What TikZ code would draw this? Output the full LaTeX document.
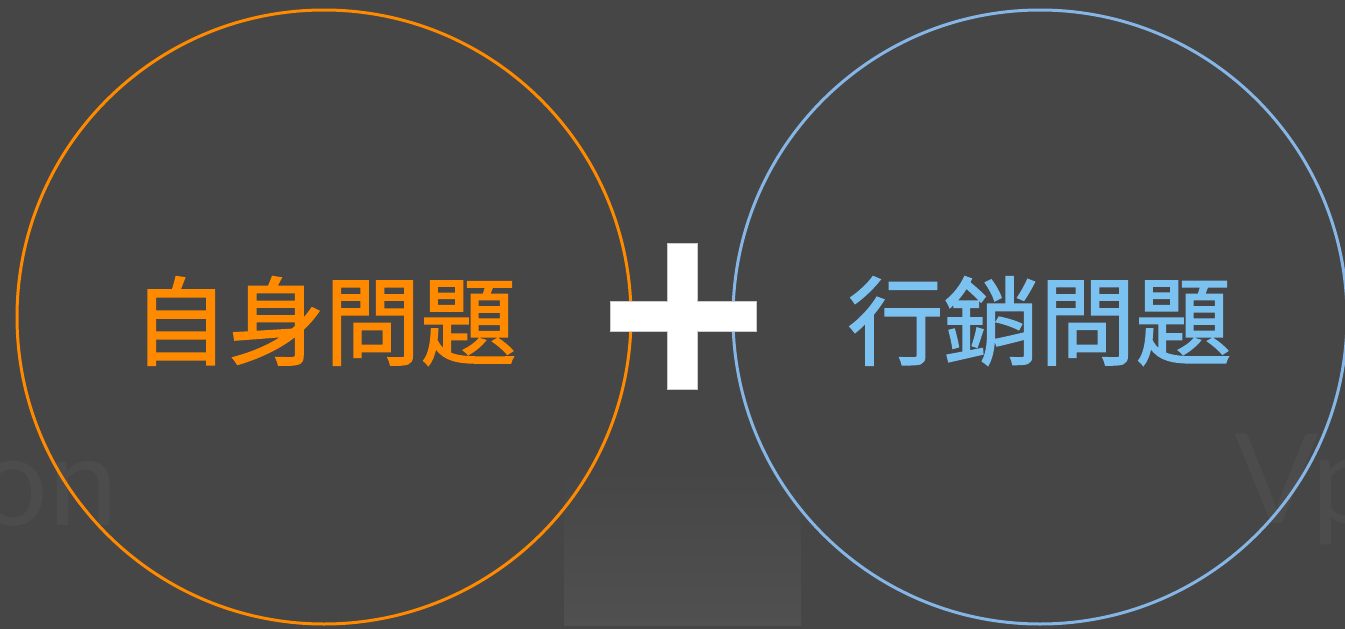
\documentclass[tikz,border=0pt]{standalone}
\usepackage{fontspec}
\newfontfamily\cjk{Noto Sans CJK TC}[FakeBold=1.6]
\newfontfamily\latf{Lato}
\definecolor{bg}{HTML}{464646}
\definecolor{faint}{HTML}{4C4C4C}
\definecolor{panel}{HTML}{505050}
\definecolor{orng}{HTML}{FF8A00}
\definecolor{bluec}{HTML}{86B6E6}
\definecolor{bluet}{HTML}{7CC2F0}
\begin{document}
\begin{tikzpicture}[x=1pt,y=-1pt,
  ring/.style={circle, draw, line width=3pt, minimum size=614pt, inner sep=0pt},
  bigtxt/.style={font=\cjk\fontsize{96}{96}\selectfont, inner sep=0pt},
  ghost/.style={font=\latf\fontsize{125}{125}\selectfont, text=faint, inner sep=0pt},
  bar/.style={fill=white, draw=white!80!black, line width=0.6pt}]
\useasboundingbox (0,0) rectangle (1345,629);
\fill[bg] (0,0) rectangle (1345,629);
\clip (0,0) rectangle (1345,629);
% lighter shaded panel at bottom centre
\shade[top color=bg, bottom color=panel] (564,470) rectangle (801,625);
% ghost background text
\node[ghost, anchor=base east] (g1) at (118,525) {on};
\node[ghost, anchor=base west] (g2) at (1234,523) {Vp};
% circles
\node[ring, draw=orng] (L) at (324,317) {};
\node[ring, draw=bluec] (R) at (1040,317) {};
% labels
\node[bigtxt, text=orng] (lt) at (324.5,321) {自身問題};
\node[bigtxt, text=bluet] (rt) at (1039.5,321) {行銷問題};
% plus sign
\node[bar, minimum width=30pt, minimum height=146pt, inner sep=0pt] (pv) at (682.7,316.2) {};
\node[bar, minimum width=146pt, minimum height=30pt, inner sep=0pt] (ph) at (682.8,316) {};
\fill[white] (668.3,244) rectangle (697.1,388.4);
\end{tikzpicture}
\end{document}
